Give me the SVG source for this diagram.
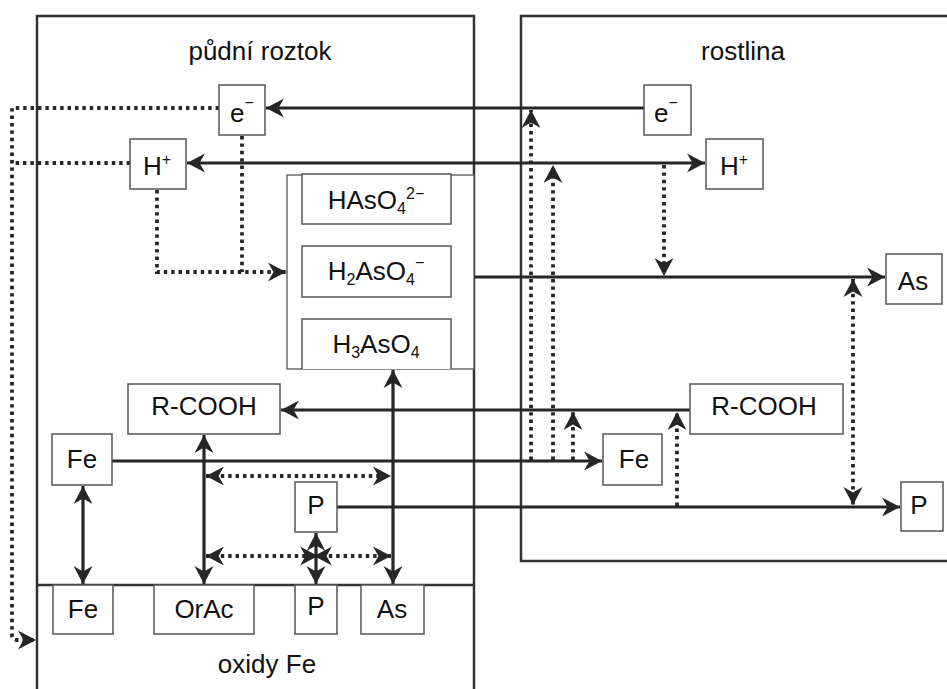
<svg xmlns="http://www.w3.org/2000/svg" width="947" height="689" viewBox="0 0 947 689">
<style>
.frame{fill:none;stroke:#333;stroke-width:2.5}
.box{fill:#fff;stroke:#555;stroke-width:1.5}
.cont{fill:#fff;stroke:#555;stroke-width:1.3}
.ln{fill:none;stroke:#262626;stroke-width:3.2}
.dt{fill:none;stroke:#262626;stroke-width:3.8;stroke-dasharray:3.4 4}
text{font-family:"Liberation Sans",Arial,sans-serif;font-size:26px;fill:#111;text-anchor:middle}
.s{font-size:16px}
</style>
<defs>
<marker id="ah" viewBox="0 -10 19 20" refX="18" refY="0" markerWidth="19" markerHeight="20" markerUnits="userSpaceOnUse" orient="auto-start-reverse">
<path d="M18,0 L0,-9.5 L5.5,0 L0,9.5 Z" fill="#262626"/>
</marker>
</defs>
<rect width="947" height="689" fill="#fff"/>
<g id="frames">
<rect class="frame" x="37" y="16" width="437" height="700"/>
<line class="frame" x1="37" y1="585" x2="474" y2="585"/>
<rect class="frame" x="521" y="16" width="440" height="545"/>
<text x="260" y="60">půdní roztok</text>
<text x="743" y="60">rostlina</text>
<text x="267" y="673">oxidy Fe</text>
</g>
<g id="connectors">
<line class="ln" x1="644" y1="108" x2="266" y2="108" marker-end="url(#ah)"/>
<line class="ln" x1="187" y1="163" x2="705" y2="163" marker-start="url(#ah)" marker-end="url(#ah)"/>
<line class="ln" x1="474" y1="277" x2="885" y2="277" marker-end="url(#ah)"/>
<line class="ln" x1="690" y1="410" x2="281" y2="410" marker-end="url(#ah)"/>
<line class="ln" x1="112" y1="461" x2="602" y2="461" marker-end="url(#ah)"/>
<line class="ln" x1="337" y1="507" x2="900" y2="507" marker-end="url(#ah)"/>
<line class="ln" x1="83" y1="486" x2="83" y2="584" marker-start="url(#ah)" marker-end="url(#ah)"/>
<line class="ln" x1="204" y1="435" x2="204" y2="584" marker-start="url(#ah)" marker-end="url(#ah)"/>
<line class="ln" x1="393" y1="370" x2="393" y2="584" marker-start="url(#ah)" marker-end="url(#ah)"/>
<line class="ln" x1="316" y1="533" x2="316" y2="584" marker-start="url(#ah)" marker-end="url(#ah)"/>
<path class="dt" d="M219,108 H12 V635 Q12,640 17,640 H36" marker-end="url(#ah)"/>
<line class="dt" x1="130" y1="163" x2="12" y2="163"/>
<line class="dt" x1="242" y1="136" x2="242" y2="272"/>
<path class="dt" d="M157,190 V272 H286" marker-end="url(#ah)"/>
<line class="dt" x1="664" y1="165" x2="664" y2="276" marker-end="url(#ah)"/>
<line class="dt" x1="531" y1="460" x2="531" y2="110" marker-end="url(#ah)"/>
<line class="dt" x1="553" y1="460" x2="553" y2="165" marker-end="url(#ah)"/>
<line class="dt" x1="573" y1="460" x2="573" y2="412" marker-end="url(#ah)"/>
<line class="dt" x1="677" y1="506" x2="677" y2="412" marker-end="url(#ah)"/>
<line class="dt" x1="853" y1="279" x2="853" y2="505" marker-start="url(#ah)" marker-end="url(#ah)"/>
<line class="dt" x1="206" y1="476" x2="391" y2="476" marker-start="url(#ah)" marker-end="url(#ah)"/>
<line class="dt" x1="206" y1="556" x2="318" y2="556" marker-start="url(#ah)" marker-end="url(#ah)"/>
<line class="dt" x1="314" y1="556" x2="391" y2="556" marker-start="url(#ah)" marker-end="url(#ah)"/>
</g>
<g id="n-e-left"><rect class="box" x="219" y="85" width="46" height="50"/><text x="242" y="122">e<tspan class="s" dy="-14">−</tspan></text></g>
<g id="n-e-right"><rect class="box" x="644" y="85" width="47" height="50"/><text x="666" y="122">e<tspan class="s" dy="-14">−</tspan></text></g>
<g id="n-h-left"><rect class="box" x="130" y="139" width="56" height="50"/><text x="157" y="175">H<tspan class="s" dy="-10">+</tspan></text></g>
<g id="n-h-right"><rect class="box" x="706" y="139" width="57" height="50"/><text x="734" y="175">H<tspan class="s" dy="-10">+</tspan></text></g>
<g id="n-arsenate">
<rect class="cont" x="287" y="175" width="187" height="194"/>
<rect class="box" x="302" y="174" width="149" height="50"/>
<text x="376" y="209">HAsO<tspan class="s" dy="5">4</tspan><tspan class="s" dy="-15">2−</tspan></text>
<rect class="box" x="302" y="246" width="149" height="51"/>
<text x="376" y="280">H<tspan class="s" dy="5">2</tspan><tspan dy="-5">AsO</tspan><tspan class="s" dy="5">4</tspan><tspan class="s" dy="-17">−</tspan></text>
<path class="box" d="M302,369 V319 H451 V369"/>
<text x="376" y="353">H<tspan class="s" dy="5">3</tspan><tspan dy="-5">AsO</tspan><tspan class="s" dy="5">4</tspan></text>
</g>
<g id="n-as-plant"><rect class="box" x="886" y="254" width="56" height="50"/><text x="913" y="290">As</text></g>
<g id="n-rcooh-left"><rect class="box" x="128" y="384" width="152" height="50"/><text x="204" y="415">R-COOH</text></g>
<g id="n-rcooh-right"><rect class="box" x="690" y="384" width="153" height="50"/><text x="764" y="415">R-COOH</text></g>
<g id="n-fe-left"><rect class="box" x="52" y="434" width="60" height="51"/><text x="82" y="468">Fe</text></g>
<g id="n-fe-right"><rect class="box" x="603" y="434" width="59" height="51"/><text x="634" y="468">Fe</text></g>
<g id="n-p-left"><rect class="box" x="295" y="482" width="42" height="50"/><text x="316" y="514">P</text></g>
<g id="n-p-right"><rect class="box" x="901" y="482" width="42" height="49"/><text x="919" y="514">P</text></g>
<g id="n-fe-ox"><rect class="box" x="53" y="585" width="60" height="49"/><text x="83" y="618">Fe</text></g>
<g id="n-orac-ox"><rect class="box" x="154" y="585" width="100" height="49"/><text x="204" y="618">OrAc</text></g>
<g id="n-p-ox"><rect class="box" x="295" y="585" width="42" height="49"/><text x="316" y="615">P</text></g>
<g id="n-as-ox"><rect class="box" x="361" y="585" width="63" height="49"/><text x="392" y="618">As</text></g>
</svg>
